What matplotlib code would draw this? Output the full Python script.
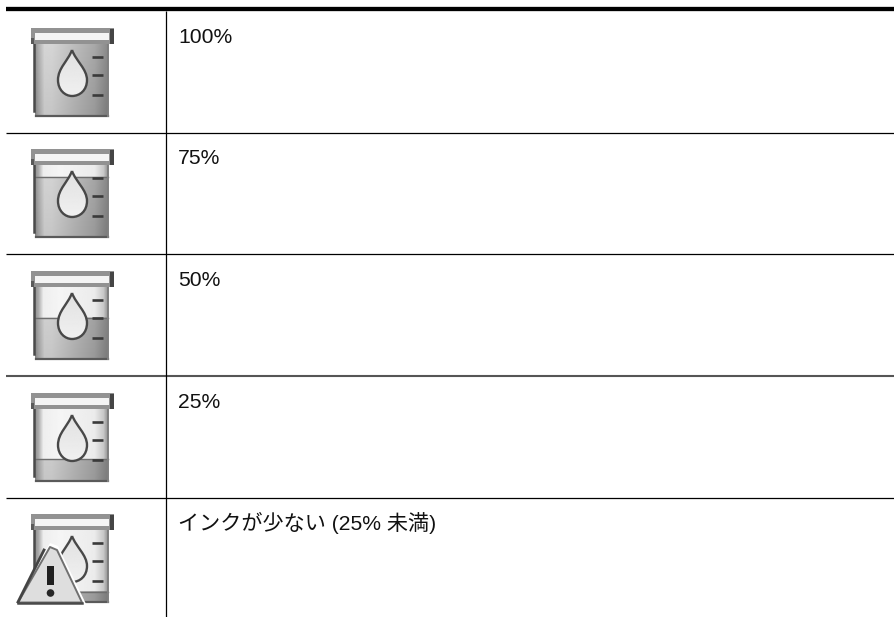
import numpy as np
import matplotlib
matplotlib.use('Agg')
import matplotlib.pyplot as plt
from matplotlib.patches import PathPatch, Polygon, Rectangle, Circle
from matplotlib.path import Path

# Table contents
row_labels = ['100%', '75%', '50%', '25%', 'インクが少ない (25% 未満)']
ink_levels = [1.0, 0.84, 0.57, 0.30, 0.14]
show_warning = [False, False, False, False, True]

# Table layout in pixels
row_tops = [11, 132.5, 254, 376, 497.5]
icon_offsets = [0, 121, 243, 365, 486]
col_x = 166
text_x = 178
text_offset = 32


def body_shade(x, full):
    # grey levels across the tank, left to right
    if full:
        return np.interp(x, [33, 38, 44, 52, 75, 95, 108], [125, 165, 205, 205, 180, 160, 130])
    return np.interp(x, [33, 38, 43, 60, 95, 104, 108], [130, 170, 238, 245, 235, 200, 150])


def draw_icon(ax, dy, level):
    # tank body, ink part and empty part
    left, right, top, bottom = 35, 108, 44, 116
    ink_y = bottom - level * (bottom - top)
    xs = np.linspace(left, right, 74)
    ys = np.linspace(top, bottom, 73)
    img = np.zeros((len(ys), len(xs)))
    for i, y in enumerate(ys):
        if y < ink_y:
            img[i] = body_shade(xs, False)
        else:
            img[i] = body_shade(xs, True) - 16 * (y - top) / 72 + 8
    ax.imshow(img, cmap='gray', vmin=0, vmax=255, aspect='auto', interpolation='bilinear',
              extent=(left, right, bottom + dy, top + dy), zorder=2)
    if level < 1.0:
        ax.plot([left, right], [ink_y + dy, ink_y + dy], color='#6e6e6e', lw=1.0, zorder=3)

    # body edges
    ax.plot([34, 34], [44 + dy, 111 + dy], color='#4a4a4a', lw=1.8, zorder=4)
    ax.plot([36, 108], [116 + dy, 116 + dy], color='#5a5a5a', lw=1.6, zorder=4)
    ax.plot([108, 108], [44 + dy, 116 + dy], color='#808080', lw=1.4, zorder=4)

    # cap
    ax.add_patch(Rectangle((31, 28 + dy), 83, 16, fc='#929292', ec='none', zorder=5))
    ax.add_patch(Rectangle((35, 33 + dy), 74, 6.5, fc='#f4f4f4', ec='none', zorder=6))
    ax.add_patch(Rectangle((110, 29 + dy), 4, 15, fc='#454545', ec='none', zorder=6))
    ax.add_patch(Rectangle((31, 38 + dy), 3, 6, fc='#5a5a5a', ec='none', zorder=6))

    # scale ticks
    for ty in [57, 75, 94.5]:
        ax.plot([92, 103], [ty + dy, ty + dy], color='#3a3a3a', lw=1.9, solid_capstyle='butt', zorder=4)

    # drop
    verts = [(72, 50), (68, 61), (58, 68), (58, 80), (58, 90), (65, 96), (72, 96),
             (80, 96), (87, 90), (87, 80), (87, 69), (76, 61), (72, 50)]
    codes = [Path.MOVETO] + [Path.CURVE4] * 12
    drop = PathPatch(Path([(x, y + dy) for x, y in verts], codes), fc='none', ec='#484848', lw=1.7, zorder=8)
    grad = ax.imshow(np.linspace(225, 240, 40).reshape(40, 1), cmap='gray', vmin=0, vmax=255, aspect='auto',
                     extent=(57, 88, 97 + dy, 49 + dy), zorder=7)
    clip = PathPatch(Path([(x, y + dy) for x, y in verts], codes), fc='none', ec='none', transform=ax.transData)
    ax.add_patch(clip)
    grad.set_clip_path(clip)
    ax.add_patch(drop)


def draw_warning(ax, dy):
    # warning triangle over the lower left of the tank
    halo = Polygon([(50, 57 + dy), (58, 60 + dy), (86, 118 + dy), (14, 118 + dy)], fc='white', ec='none', zorder=9)
    ax.add_patch(halo)
    tri = Polygon([(50, 61 + dy), (57, 64 + dy), (82, 116.5 + dy), (18, 116.5 + dy)],
                  fc='#dedede', ec='#707070', lw=1.4, joinstyle='round', zorder=10)
    ax.add_patch(tri)
    ax.plot([18, 44], [116 + dy, 64 + dy], color='#444444', lw=2.0, zorder=11)
    ax.plot([18, 82], [117 + dy, 117 + dy], color='#4a4a4a', lw=1.8, zorder=11)
    ax.add_patch(Rectangle((47, 80 + dy), 7, 19, fc='#202020', ec='none', zorder=12))
    ax.add_patch(Circle((50.5, 107 + dy), 3.8, fc='#262626', ec='none', zorder=12))


fig = plt.figure(figsize=(8.95, 6.17), dpi=100)
ax = fig.add_axes([0, 0, 1, 1])

for dy, level, warn in zip(icon_offsets, ink_levels, show_warning):
    draw_icon(ax, dy, level)
    if warn:
        draw_warning(ax, dy)

# Table rules
ax.plot([6, 895], [9, 9], color='black', lw=3.1, solid_capstyle='butt', zorder=20)
for i, y in enumerate(row_tops[1:]):
    if i == 2:
        ax.plot([6, 895], [y, y], color='#555555', lw=1.5, solid_capstyle='butt', zorder=20)
    else:
        ax.plot([6, 895], [y, y], color='black', lw=0.9, solid_capstyle='butt', zorder=20)
ax.plot([col_x, col_x], [11, 617], color='black', lw=0.9, solid_capstyle='butt', zorder=20)

for y, label in zip(row_tops, row_labels):
    ax.text(text_x, y + text_offset, label, fontsize=15.2, family=['Liberation Sans', 'Noto Sans CJK JP'],
            color='#111111', va='baseline', ha='left', zorder=21)

ax.set_xlim(0, 895)
ax.set_ylim(617, 0)
ax.axis('off')

fig.savefig('out.png', dpi=100, facecolor='white')
